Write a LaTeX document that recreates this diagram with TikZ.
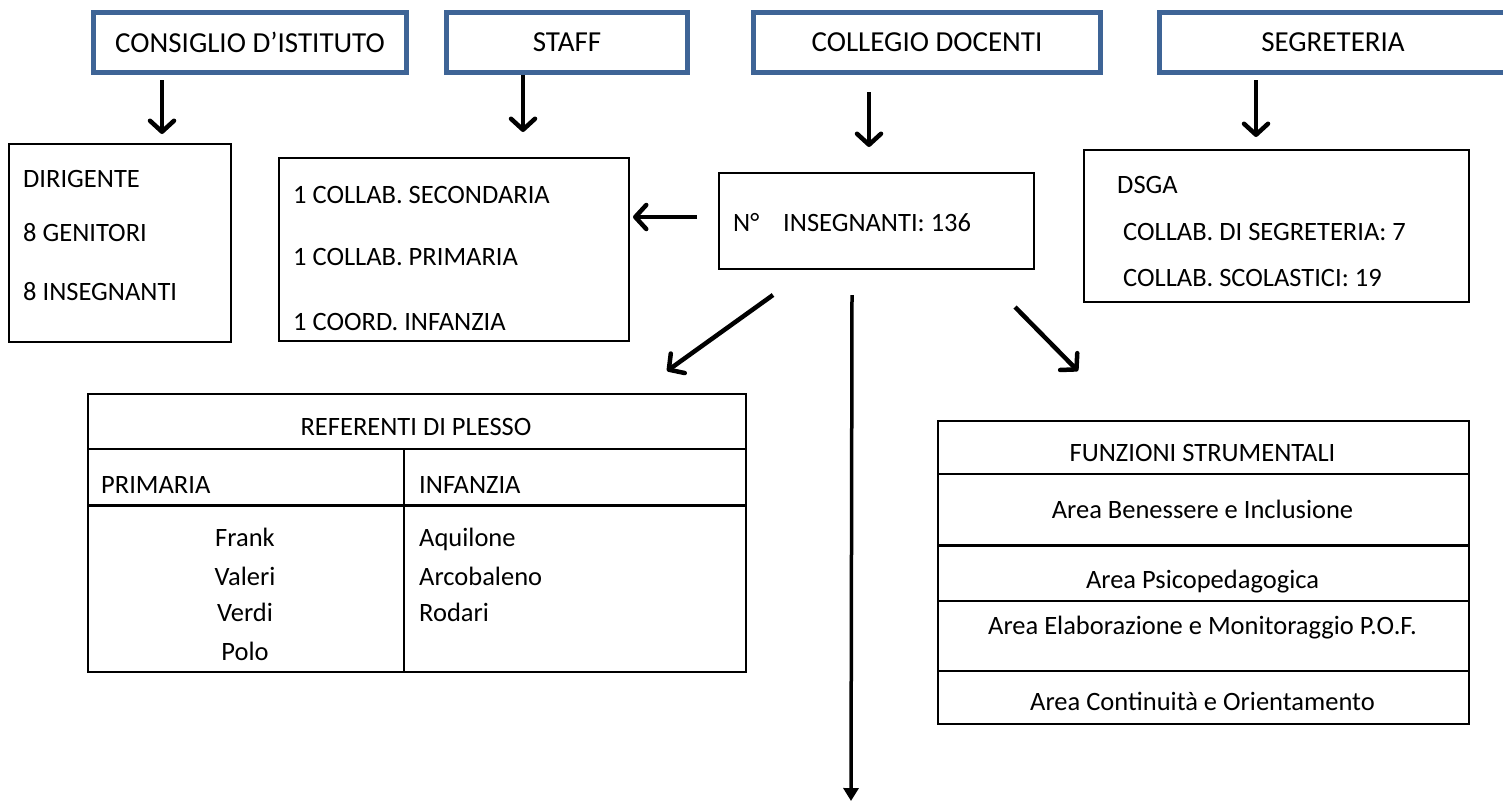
\documentclass[tikz,border=0pt]{standalone}
\usepackage{fontspec}
\setmainfont{Carlito}
\usetikzlibrary{arrows.meta}
\definecolor{bdblue}{RGB}{62,100,150}
\newcommand\fsz{\fontsize{26.5}{31}\selectfont}
\newcommand\fszt{\fontsize{29}{34}\selectfont}
\begin{document}
\begin{tikzpicture}[x=1pt,y=-1pt,
  topbox/.style={draw=bdblue, line width=5pt, inner sep=0pt, font=\fszt},
  plainbox/.style={draw=black, line width=1.8pt, inner sep=0pt},
  txt/.style={font=\fsz, inner sep=0pt, anchor=base west},
  ctxt/.style={font=\fsz, inner sep=0pt, anchor=base},
  barb/.style={line width=4.5pt, -{Straight Barb[length=11pt,width=24pt,round]}},
  longarr/.style={line width=3.5pt, -{Triangle[length=13pt,width=15pt]}},
  tline/.style={line width=1.6pt},
  thline/.style={line width=3pt}
]
\useasboundingbox (0,0) rectangle (1503,803);

% top boxes
\node[topbox, minimum width=313, minimum height=60] (consiglio) at (250,42.5) {CONSIGLIO D’ISTITUTO};
\node[topbox, minimum width=241, minimum height=60] (staff) at (567,42.5) {STAFF};
\node[topbox, minimum width=347, minimum height=60] (collegio) at (927,42.5) {COLLEGIO DOCENTI};
\node[topbox, minimum width=347, minimum height=60] (segreteria) at (1333,42.5) {SEGRETERIA};

% second row boxes
\node[plainbox, minimum width=222, minimum height=198, anchor=north west] (dirbox) at (8,143) {};
\node[txt] (dir1) at (23,187) {DIRIGENTE};
\node[txt] (dir2) at (23,241) {8 GENITORI};
\node[txt] (dir3) at (23,300) {8 INSEGNANTI};

\node[plainbox, minimum width=350, minimum height=183, anchor=north west] (stbox) at (278,157) {};
\node[txt] (st1) at (293,203) {1 COLLAB. SECONDARIA};
\node[txt] (st2) at (293,265) {1 COLLAB. PRIMARIA};
\node[txt] (st3) at (293,330) {1 COORD. INFANZIA};

\node[plainbox, minimum width=315, minimum height=96, anchor=north west] (nbox) at (718,172) {};
\node[txt] (n1) at (733,231) {N°};
\node[txt] (n2) at (783,231) {INSEGNANTI: 136};

\node[plainbox, minimum width=385, minimum height=152, anchor=north west] (dsbox) at (1083,149) {};
\node[txt] (ds1) at (1117,193) {DSGA};
\node[txt] (ds2) at (1123,240) {COLLAB. DI SEGRETERIA: 7};
\node[txt] (ds3) at (1123,286) {COLLAB. SCOLASTICI: 19};

% referenti table
\node[draw=black, line width=1.6pt, inner sep=0pt, minimum width=658, minimum height=278, anchor=north west] (ref) at (87,393) {};
\draw[tline] (87,449) -- (745,449);
\draw[thline] (87,505) -- (745,505);
\draw[tline] (404,449) -- (404,671);
\node[ctxt] (refh) at (416,435) {REFERENTI DI PLESSO};
\node[txt] (prim) at (101,493) {PRIMARIA};
\node[txt] (inf) at (419,493) {INFANZIA};
\node[ctxt] (p1) at (245,546) {Frank};
\node[ctxt] (p2) at (245,585) {Valeri};
\node[ctxt] (p3) at (245,621) {Verdi};
\node[ctxt] (p4) at (245,660) {Polo};
\node[txt] (i1) at (419,546) {Aquilone};
\node[txt] (i2) at (419,585) {Arcobaleno};
\node[txt] (i3) at (419,621) {Rodari};

% funzioni table
\node[draw=black, line width=1.6pt, inner sep=0pt, minimum width=531, minimum height=303, anchor=north west] (fun) at (937,420) {};
\draw[tline] (937,474) -- (1468,474);
\draw[thline] (937,545) -- (1468,545);
\draw[tline] (937,601) -- (1468,601);
\draw[tline] (937,671) -- (1468,671);
\node[ctxt] (f0) at (1202.5,461) {FUNZIONI STRUMENTALI};
\node[ctxt] (f1) at (1202.5,518) {Area Benessere e Inclusione};
\node[ctxt] (f2) at (1202.5,588) {Area Psicopedagogica};
\node[ctxt] (f3) at (1202.5,634) {Area Elaborazione e Monitoraggio P.O.F.};
\node[ctxt] (f4) at (1202.5,710) {Area Continuità e Orientamento};

% arrow coordinates
\coordinate (a1s) at (162,80);   \coordinate (a1e) at (162,134);
\coordinate (a2s) at (523,75);   \coordinate (a2e) at (523,132);
\coordinate (a3s) at (869,92);   \coordinate (a3e) at (869,147);
\coordinate (a4s) at (1256,80);  \coordinate (a4e) at (1256,137);
\coordinate (a5s) at (697,217);  \coordinate (a5e) at (633,217);
\coordinate (a6s) at (773,295);  \coordinate (a6e) at (667,371);
\coordinate (a7s) at (852,295);  \coordinate (a7e) at (851,801);
\coordinate (a8s) at (1015,307); \coordinate (a8e) at (1078,371);

\draw[barb] (a1s) -- (a1e);
\draw[barb] (a2s) -- (a2e);
\draw[barb] (a3s) -- (a3e);
\draw[barb] (a4s) -- (a4e);
\draw[barb] (a5s) -- (a5e);
\draw[barb] (a6s) -- (a6e);
\draw[longarr] (a7s) -- (a7e);
\draw[barb] (a8s) -- (a8e);
\end{tikzpicture}
\end{document}
